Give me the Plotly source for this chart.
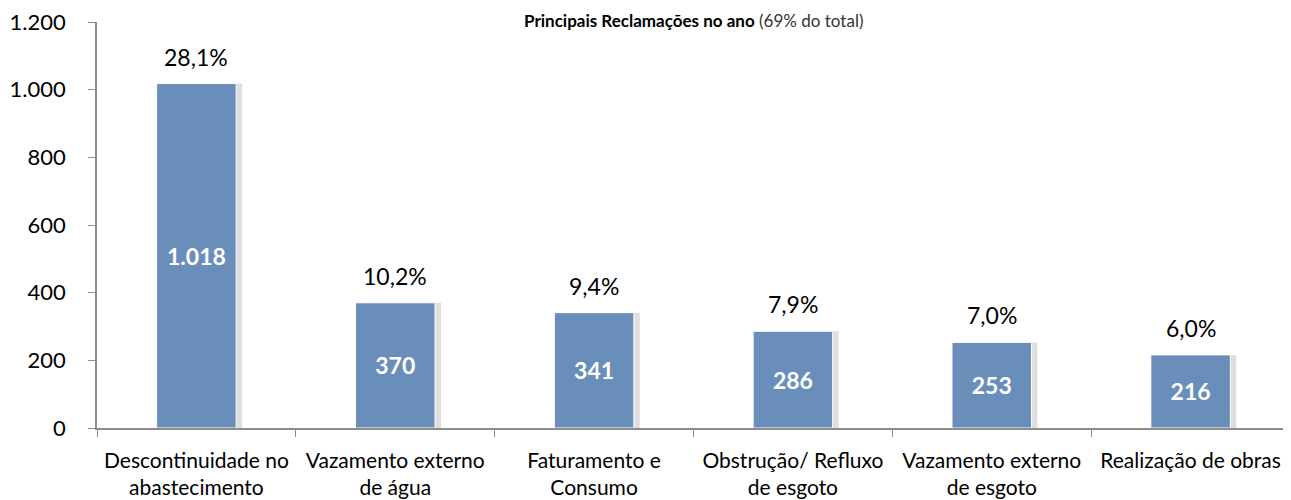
import plotly.graph_objects as go

categories = [
    "Descontinuidade no<br>abastecimento",
    "Vazamento externo<br>de água",
    "Faturamento e<br>Consumo",
    "Obstrução/ Refluxo<br>de esgoto",
    "Vazamento externo<br>de esgoto",
    "Realização de obras",
]
values = [1018, 370, 341, 286, 253, 216]
percents = ["28,1%", "10,2%", "9,4%", "7,9%", "7,0%", "6,0%"]
y_ticks = [0, 200, 400, 600, 800, 1000, 1200]

FONT = "Lato, Calibri, Carlito, sans-serif"

fig = go.Figure()

# soft shadow behind bars
fig.add_trace(go.Bar(
    x=categories, y=values, width=0.4, offset=-0.17,
    marker=dict(color="rgba(0,0,0,0.13)", line=dict(width=0)),
    hoverinfo="skip", showlegend=False,
))

fig.add_trace(go.Bar(
    x=categories, y=values, width=0.4, offset=-0.2,
    marker=dict(color="#6A8EBA", line=dict(color="white", width=1)),
    texttemplate="%{y:,d}", textposition="inside", insidetextanchor="middle",
    textfont=dict(color="white", size=23, family=FONT, weight="bold"),
    showlegend=False,
))

for c, v, p in zip(categories, values, percents):
    fig.add_annotation(x=c, y=v, text=p, showarrow=False, yanchor="bottom",
                       yshift=11, font=dict(size=23, color="black", family=FONT))

fig.add_annotation(
    xref="paper", yref="paper", x=0.5, y=1, yshift=2, yanchor="middle",
    text="<b>Principais Reclamações no ano</b> <span style='color:#333333'>(69% do total)</span>",
    showarrow=False, font=dict(size=17, color="black", family=FONT),
)

fig.update_layout(
    width=1283, height=492,
    margin=dict(l=89, r=1, t=14, b=72, autoexpand=False),
    paper_bgcolor="white", plot_bgcolor="white",
    barmode="overlay", bargap=0.6,
    separators=",.",
    font=dict(family=FONT, size=18, color="black"),
)
fig.update_yaxes(
    range=[0, 1200], tickvals=y_ticks, tickformat=",d",
    showgrid=False, showline=True, linecolor="#8C8C8C", linewidth=1.5,
    ticks="outside", ticklen=7, tickcolor="#8C8C8C", ticklabelstandoff=18,
    ticklabeloverflow="allow", automargin=False,
    tickfont=dict(size=22, family=FONT), zeroline=False,
)
fig.update_xaxes(
    showgrid=False, showline=True, linecolor="#8C8C8C", linewidth=1.5,
    ticks="outside", ticklen=7, tickcolor="#8C8C8C", tickson="boundaries",
    ticklabelstandoff=13, ticklabeloverflow="allow", automargin=False,
    tickfont=dict(size=21, family=FONT),
)

fig.write_html("out.html")
